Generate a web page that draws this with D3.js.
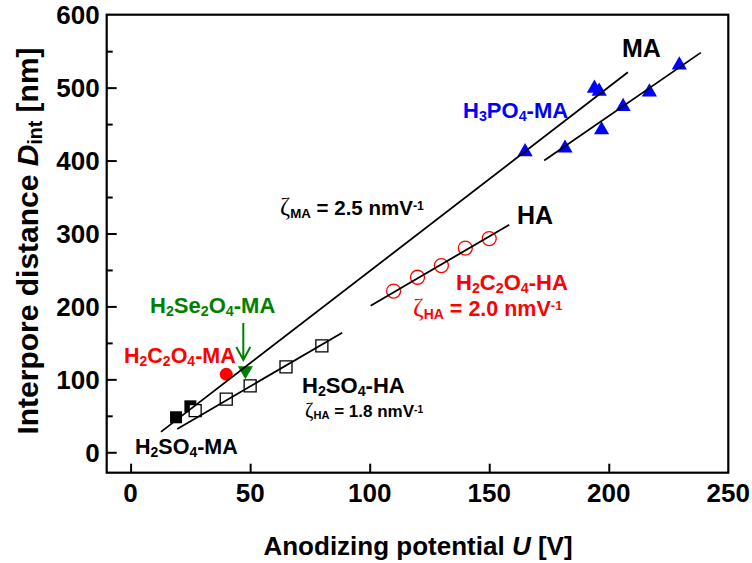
<!DOCTYPE html>
<html><head><meta charset="utf-8">
<script src="https://cdn.jsdelivr.net/npm/d3@7"></script>
<style>body{margin:0;background:#fff}svg{display:block}</style>
</head><body><svg id="c" width="752" height="563"></svg>
<script>
// ---- data (U [V], D_int [nm]) ----
const xTicks = [0, 50, 100, 150, 200, 250];
const yTicks = [0, 100, 200, 300, 400, 500, 600];
const yMinor = [50, 150, 250, 350, 450, 550];
const h2so4MA = [[19, 48], [25, 63]];
const h2c2o4MA = [[40, 107]];
const h2se2o4MA = [[48, 112]];
const h2so4HA = [[27, 57], [40, 73], [50, 91], [65, 117], [80, 146]];
const h2c2o4HA = [[110, 221], [120, 240], [130, 256], [140, 280], [150, 293]];
const h3po4MA = [[165, 412], [181.7, 417], [194, 499], [196, 495], [197, 442], [206, 474], [217, 494], [229.5, 531]];
const fitMA = [[12.7, 28], [208, 521]];
const fitMA2 = [[173, 400], [238.5, 548]];
const fitHA1 = [[19.5, 32], [88.5, 164]];
const fitHA2 = [[100.4, 201], [158.4, 312]];

const svg = d3.select('#c');
const L = 106.7, R = 728.3, T = 14.7, B = 472.7;
const x = d3.scaleLinear().domain([-10, 250]).range([L, R]);
const y = d3.scaleLinear().domain([-28, 600]).range([B, T]);
const FONT = '"Liberation Sans", Arial, sans-serif';

// axes
const gx = svg.append('g').attr('transform', `translate(0,${B})`)
  .call(d3.axisBottom(x).tickValues(xTicks.filter(v => v < 250)).tickSize(-9).tickFormat(''));
const gy = svg.append('g').attr('transform', `translate(${L},0)`)
  .call(d3.axisLeft(y).tickValues(yTicks.filter(v => v < 600)).tickSize(-10).tickFormat(''));
const gym = svg.append('g').attr('transform', `translate(${L},0)`)
  .call(d3.axisLeft(y).tickValues(yMinor).tickSize(-6).tickFormat(''));
[gx, gy, gym].forEach(g => { g.select('.domain').remove(); g.selectAll('line').attr('stroke', '#000').attr('stroke-width', 2); });

svg.append('rect').attr('x', L).attr('y', T).attr('width', R - L).attr('height', B - T)
  .attr('fill', 'none').attr('stroke', '#000').attr('stroke-width', 2.2);

// tick labels
svg.append('g').selectAll('text').data(xTicks).join('text')
  .attr('x', d => x(d)).attr('y', 502).attr('text-anchor', 'middle')
  .attr('font-family', FONT).attr('font-weight', 'bold').attr('font-size', 26).text(d => d);
svg.append('g').selectAll('text').data(yTicks).join('text')
  .attr('x', L - 7).attr('y', d => y(d) + 9.5).attr('text-anchor', 'end')
  .attr('font-family', FONT).attr('font-weight', 'bold').attr('font-size', 26).text(d => d);

// rich text helper: parts = [text, mode] mode: undefined | 'sub' | 'sup' | 'it' | 'greek'
function rich(px, py, parts, size, color, anchor, rotate) {
  const t = svg.append('text').attr('x', px).attr('y', py)
    .attr('font-family', FONT).attr('font-weight', 'bold').attr('font-size', size)
    .attr('fill', color).attr('text-anchor', anchor || 'start');
  if (rotate) t.attr('transform', `rotate(${rotate},${px},${py})`);
  parts.forEach(([s, m]) => {
    const ts = t.append('tspan').text(s);
    if (m === 'sub') { ts.attr('font-size', size * 0.65).attr('baseline-shift', '-22%'); }
    else if (m === 'sup') { ts.attr('font-size', size * 0.6).attr('baseline-shift', '45%'); }
    else if (m === 'it') { ts.attr('font-style', 'italic'); }
    else if (m === 'greek') { ts.attr('font-family', '"Liberation Serif", "DejaVu Serif", serif').attr('font-weight', 'normal').attr('font-size', size * 1.2); }
  });
  return t;
}

// axis titles
rich(418, 555, [['Anodizing potential '], ['U', 'it'], [' [V]']], 26, '#000', 'middle');
rich(38, 241, [['Interpore distance '], ['D', 'it'], ['int', 'sub'], [' [nm]']], 30, '#000', 'middle', -90);

// markers
const sq = d3.symbol().type(d3.symbolSquare);
svg.append('g').selectAll('path').data(h2so4MA).join('path')
  .attr('transform', d => `translate(${x(d[0])},${y(d[1])})`).attr('d', sq.size(144)()).attr('fill', '#000');
svg.append('g').selectAll('path').data(h2so4HA).join('path')
  .attr('transform', d => `translate(${x(d[0])},${y(d[1])})`).attr('d', sq.size(144)())
  .attr('fill', '#fff').attr('stroke', '#000').attr('stroke-width', 1.3);
svg.append('g').selectAll('circle').data(h2c2o4HA).join('circle')
  .attr('cx', d => x(d[0])).attr('cy', d => y(d[1])).attr('r', 7)
  .attr('fill', 'none').attr('stroke', '#ff0000').attr('stroke-width', 1.3);
svg.append('g').selectAll('circle').data(h2c2o4MA).join('circle')
  .attr('cx', d => x(d[0])).attr('cy', d => y(d[1])).attr('r', 6.5).attr('fill', '#ff0000');
const tri = d3.symbol().type(d3.symbolTriangle).size(100);
svg.append('g').selectAll('path').data(h2se2o4MA).join('path')
  .attr('transform', d => `translate(${x(d[0])},${y(d[1])}) rotate(180)`).attr('d', tri()).attr('fill', '#008000');
svg.append('g').selectAll('path').data(h3po4MA).join('path')
  .attr('transform', d => `translate(${x(d[0])},${y(d[1])})`).attr('d', tri()).attr('fill', '#0000ff');

// fit lines
const line = d3.line().x(d => x(d[0])).y(d => y(d[1]));
[fitMA, fitMA2, fitHA1, fitHA2].forEach(f => svg.append('path').attr('d', line(f))
  .attr('stroke', '#000').attr('stroke-width', 1.8).attr('fill', 'none'));

// annotations
rich(622, 57, [['MA']], 25, '#000');
rich(517, 224, [['HA']], 25, '#000');
rich(463, 118, [['H'], ['3', 'sub'], ['PO'], ['4', 'sub'], ['-MA']], 22, '#0000ff');
rich(280, 215, [['ζ', 'greek'], ['MA', 'sub'], [' = 2.5 nmV'], ['-1', 'sup']], 20.5, '#000');
rich(456, 290, [['H'], ['2', 'sub'], ['C'], ['2', 'sub'], ['O'], ['4', 'sub'], ['-HA']], 22, '#ff0000');
rich(413, 316, [['ζ', 'greek'], ['HA', 'sub'], [' = 2.0 nmV'], ['-1', 'sup']], 21.5, '#ff0000');
rich(150, 313, [['H'], ['2', 'sub'], ['Se'], ['2', 'sub'], ['O'], ['4', 'sub'], ['-MA']], 22, '#008000');
rich(124, 363, [['H'], ['2', 'sub'], ['C'], ['2', 'sub'], ['O'], ['4', 'sub'], ['-MA']], 21.5, '#ff0000');
rich(302, 393, [['H'], ['2', 'sub'], ['SO'], ['4', 'sub'], ['-HA']], 22, '#000');
rich(305, 417, [['ζ', 'greek'], ['HA', 'sub'], [' = 1.8 nmV'], ['-1', 'sup']], 17, '#000');
rich(135, 454, [['H'], ['2', 'sub'], ['SO'], ['4', 'sub'], ['-MA']], 21.5, '#000');

// green arrow
const ax = 243.3;
svg.append('path').attr('d', `M${ax},323 L${ax},360 M${ax - 7},347 L${ax},360 L${ax + 7},347`)
  .attr('stroke', '#008000').attr('stroke-width', 2).attr('fill', 'none');
</script></body></html>
